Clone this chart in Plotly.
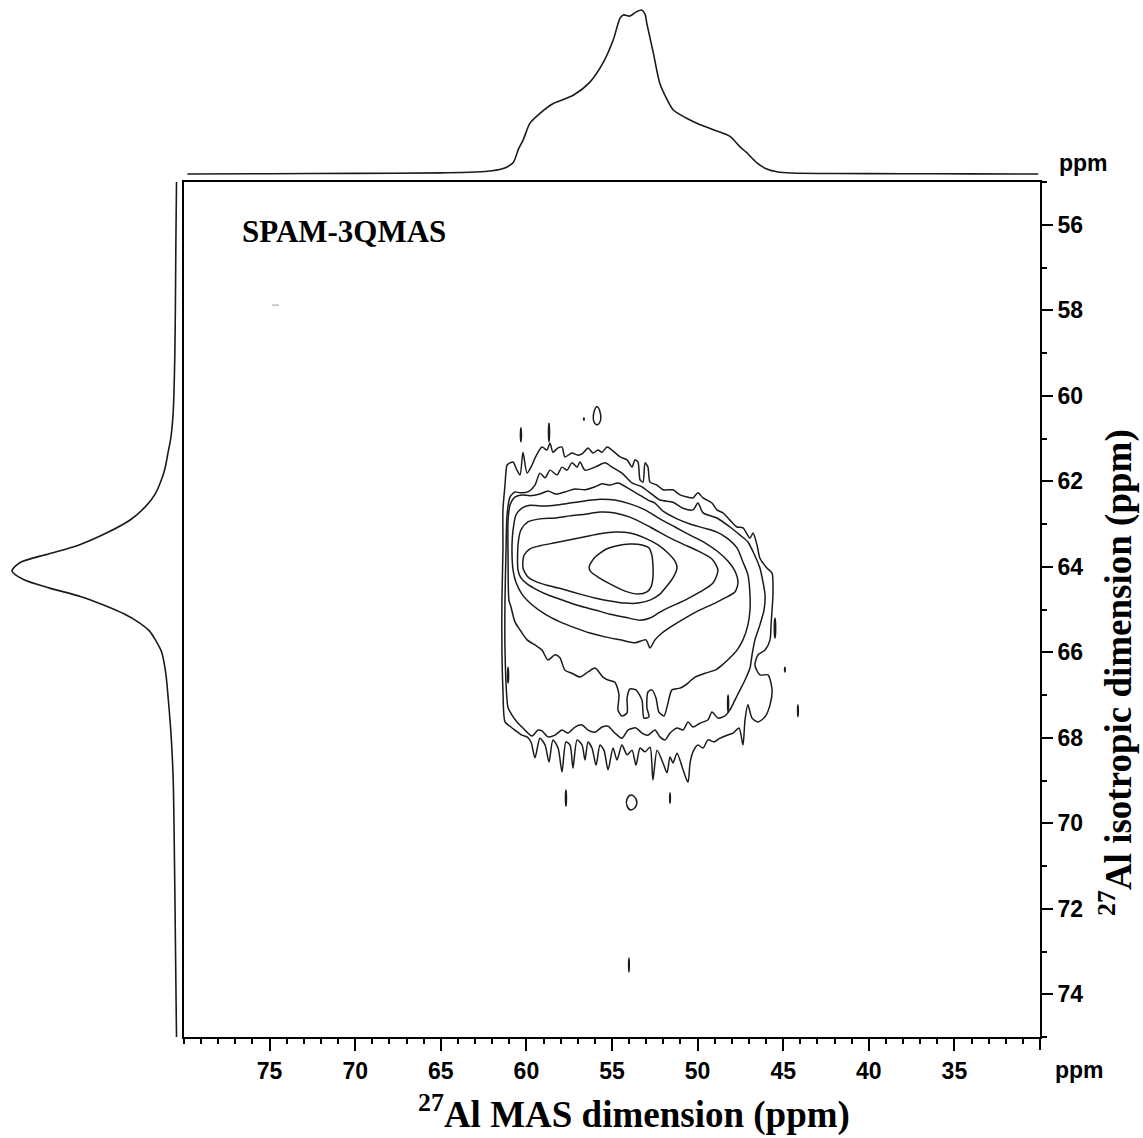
import plotly.graph_objects as go

W, H = 1143, 1138

# ---------------- data ----------------
mas_tick_vals = [35, 40, 45, 50, 55, 60, 65, 70, 75]
mas_end_tick = [30]
iso_tick_vals = [56, 58, 60, 62, 64, 66, 68, 70, 72, 74]
mas_range = [80, 30]
iso_range = [75, 55]

# F2 (MAS) projection, normalised intensity
top_proj_ppm = [79.8, 75, 70, 65, 63, 62, 61.3, 60.77, 60.47, 60.18, 59.79, 59.21, 58.43, 57.26,
                56.29, 55.51, 54.92, 54.53, 54.34, 53.95, 53.56, 53.27, 53.07, 52.97, 52.59, 52.20,
                51.81, 51.42, 50.64, 50.05, 49.08, 48.11, 47.52, 47.13, 46.55, 45.96, 45.3, 44.5,
                42, 38, 34, 30.1]
top_proj_int = [0.0, 0.002, 0.004, 0.007, 0.012, 0.02, 0.035, 0.07, 0.15, 0.21, 0.31, 0.37, 0.43,
                0.48, 0.56, 0.68, 0.82, 0.95, 0.97, 0.963, 0.99, 1.0, 0.975, 0.92, 0.74, 0.55, 0.46,
                0.39, 0.34, 0.31, 0.27, 0.23, 0.165, 0.13, 0.07, 0.03, 0.012, 0.006, 0.003, 0.002,
                0.001, 0.0]

# F1 (isotropic) projection, normalised intensity
left_proj_ppm = [55.0, 56.5, 58.0, 59.0, 60.0, 60.5, 61.0, 61.3, 61.7, 62.0, 62.3, 62.6, 62.9, 63.2,
                 63.5, 63.7, 63.9, 64.1, 64.3, 64.5, 64.7, 64.9, 65.1, 65.3, 65.5, 65.7, 66.0, 66.5,
                 67.1, 68.0, 69.0, 71.0, 73.0, 75.0]
left_proj_int = [0.0, 0.004, 0.007, 0.010, 0.016, 0.022, 0.035, 0.05, 0.07, 0.095, 0.13, 0.19, 0.28,
                 0.42, 0.60, 0.78, 0.95, 1.0, 0.93, 0.77, 0.58, 0.44, 0.32, 0.23, 0.165, 0.13, 0.09,
                 0.065, 0.05, 0.032, 0.02, 0.012, 0.006, 0.0]

# contour levels (outermost L1 ... innermost L7), (MAS ppm, iso ppm)
L1_x = [61.25, 61.37, 61.43, 61.43, 61.37, 61.37, 61.25, 61.13, 60.96, 60.78, 60.55, 60.37, 60.20,
        59.96, 59.67, 59.50, 59.09, 58.80, 58.62, 58.45, 58.15, 57.92, 57.75, 57.34, 56.99, 56.69,
        56.40, 56.11, 55.82, 55.58, 55.29, 55.00, 54.53, 54.12, 53.83, 53.66, 53.48, 53.36, 53.19,
        53.07, 52.90, 52.78, 52.37, 52.02, 51.44, 51.03, 50.62, 50.27, 49.98, 49.68, 49.16, 48.87,
        48.52, 48.11, 47.70, 47.35, 46.94, 46.76, 46.53, 46.36, 45.95, 45.65, 45.60, 45.65, 45.71,
        45.77, 46.06, 46.47, 46.65, 46.36, 45.89, 45.65, 45.77, 46.06, 46.47, 46.82, 47.06, 47.23,
        47.35, 47.58, 47.93, 48.28, 48.69, 49.04, 49.39, 49.68, 49.98, 50.27, 50.44, 50.56, 50.85,
        51.20, 51.44, 51.61, 51.79, 52.02, 52.37, 52.61, 52.78, 53.07, 53.36, 53.60, 53.83, 54.12,
        54.42, 54.71, 54.94, 55.23, 55.47, 55.70, 55.93, 56.17, 56.40, 56.58, 56.75, 57.04, 57.28,
        57.45, 57.69, 57.92, 58.15, 58.45, 58.68, 58.91, 59.21, 59.50, 59.73, 59.96, 60.26, 60.67,
        60.96, 61.25]
L1_y = [67.63, 66.88, 65.95, 64.78, 63.61, 62.67, 62.09, 61.62, 61.57, 61.55, 61.74, 61.85, 61.32,
        61.81, 61.62, 61.46, 61.20, 61.27, 61.11, 61.32, 61.22, 61.20, 61.43, 61.34, 61.39, 61.34,
        61.22, 61.34, 61.27, 61.32, 61.20, 61.27, 61.43, 61.50, 61.67, 61.50, 61.55, 61.97, 62.02,
        61.57, 61.67, 62.02, 62.09, 62.20, 62.20, 62.32, 62.37, 62.39, 62.27, 62.39, 62.51, 62.67,
        62.74, 62.91, 63.07, 63.09, 63.33, 63.21, 63.49, 63.80, 64.03, 64.15, 64.66, 65.01, 65.36,
        65.71, 65.95, 66.06, 66.30, 66.53, 66.53, 66.88, 67.23, 67.51, 67.63, 67.54, 67.23, 67.58,
        68.17, 67.77, 67.89, 67.94, 68.01, 68.10, 68.05, 68.24, 68.17, 68.33, 68.59, 69.04, 68.75,
        68.36, 68.59, 68.45, 68.82, 68.59, 68.29, 68.99, 68.22, 68.33, 68.24, 68.64, 68.29, 68.40,
        68.17, 68.52, 68.24, 68.75, 68.29, 68.17, 68.64, 68.24, 68.10, 68.52, 68.17, 68.05, 68.71,
        68.17, 68.10, 68.80, 68.24, 68.05, 68.57, 68.17, 68.01, 68.47, 68.10, 67.98, 67.94, 67.82,
        67.73, 67.63]

L2_x = [61.07, 61.13, 61.25, 61.25, 61.19, 61.13, 60.96, 60.67, 60.37, 59.91, 59.50, 59.21, 58.91,
        58.62, 58.21, 57.92, 57.63, 57.34, 57.04, 56.87, 56.58, 55.99, 55.41, 55.00, 54.42, 53.83,
        53.25, 52.78, 52.20, 51.44, 50.85, 50.27, 49.98, 49.68, 48.87, 48.11, 47.52, 47.06, 46.76,
        46.36, 46.18, 46.06, 46.12, 46.36, 46.65, 46.82, 46.94, 47.23, 47.52, 47.82, 48.11, 48.40,
        48.81, 49.16, 49.39, 49.86, 50.27, 50.56, 50.85, 51.20, 51.61, 51.90, 52.20, 52.49, 52.90,
        53.25, 53.60, 54.07, 54.42, 54.83, 55.23, 55.58, 55.99, 56.40, 56.75, 57.16, 57.57, 57.92,
        58.33, 58.74, 59.09, 59.32, 59.67, 59.91, 60.26, 60.55, 60.84, 61.07]
L2_y = [67.30, 67.12, 65.95, 64.78, 63.61, 62.79, 62.37, 62.25, 62.27, 62.25, 62.09, 61.81, 61.92,
        61.74, 61.85, 61.67, 61.74, 61.57, 61.67, 61.55, 61.74, 61.67, 61.57, 61.67, 61.81, 62.04,
        62.13, 62.27, 62.44, 62.49, 62.63, 62.67, 62.51, 62.74, 62.86, 63.07, 63.26, 63.42, 63.65,
        64.03, 64.36, 64.66, 65.01, 65.36, 65.71, 66.06, 66.37, 66.65, 66.88, 67.12, 67.35, 67.49,
        67.54, 67.40, 67.58, 67.66, 67.75, 67.63, 67.82, 67.77, 67.89, 68.05, 67.98, 67.82, 67.94,
        67.89, 67.77, 67.82, 68.01, 67.89, 67.73, 67.75, 67.87, 67.82, 67.70, 67.75, 67.89, 67.82,
        67.94, 67.98, 67.84, 67.82, 67.96, 67.89, 67.75, 67.63, 67.47, 67.30]

L3_x = [61.02, 61.07, 61.07, 60.96, 60.67, 60.26, 59.79, 59.21, 58.74, 58.27, 57.75, 57.16, 56.58,
        55.99, 55.58, 55.12, 54.65, 54.07, 53.48, 52.90, 52.49, 52.02, 51.20, 50.44, 49.68, 48.87,
        48.28, 47.70, 47.35, 47.06, 46.94, 46.94, 47.06, 47.35, 47.70, 48.11, 48.57, 48.98, 49.57,
        50.15, 50.56, 51.03, 51.50, 51.73, 51.96, 52.26, 52.43, 52.67, 52.90, 52.96, 52.84, 53.13,
        53.25, 53.60, 53.95, 54.12, 54.12, 54.42, 54.65, 54.59, 54.83, 55.23, 55.53, 55.99, 56.40,
        56.87, 57.34, 57.75, 58.04, 58.33, 58.74, 59.09, 59.50, 59.96, 60.37, 60.67, 60.90, 61.02]
L3_y = [64.78, 63.84, 62.91, 62.56, 62.37, 62.32, 62.34, 62.30, 62.23, 62.30, 62.25, 62.18, 62.20,
        62.13, 62.06, 62.09, 62.04, 62.16, 62.30, 62.44, 62.51, 62.70, 62.88, 63.00, 63.09, 63.19,
        63.33, 63.56, 63.89, 64.19, 64.66, 65.01, 65.36, 65.71, 65.95, 66.13, 66.30, 66.42, 66.49,
        66.58, 66.72, 66.84, 66.88, 67.19, 67.49, 67.40, 67.07, 66.88, 66.93, 67.30, 67.51, 67.54,
        67.12, 66.88, 66.86, 67.07, 67.42, 67.49, 67.35, 67.00, 66.70, 66.65, 66.58, 66.37, 66.46,
        66.58, 66.49, 66.42, 66.13, 66.06, 66.18, 65.95, 65.83, 65.71, 65.48, 65.29, 64.94, 64.78]

L4_x = [60.78, 60.84, 60.78, 60.61, 60.26, 59.79, 59.21, 58.33, 57.45, 56.58, 55.70, 54.83, 53.95,
        53.07, 52.20, 51.32, 50.44, 49.57, 48.81, 48.22, 47.82, 47.64, 47.82, 48.40, 48.98, 49.86,
        50.73, 51.50, 52.08, 52.49, 52.78, 53.02, 53.66, 54.53, 55.41, 56.29, 57.16, 58.04, 58.91,
        59.67, 60.26, 60.61, 60.78]
L4_y = [64.08, 63.49, 63.14, 62.79, 62.63, 62.56, 62.58, 62.56, 62.51, 62.46, 62.42, 62.44, 62.53,
        62.67, 62.88, 63.07, 63.26, 63.44, 63.65, 63.87, 64.10, 64.38, 64.59, 64.73, 64.85, 65.01,
        65.20, 65.39, 65.55, 65.71, 65.90, 65.71, 65.78, 65.71, 65.64, 65.55, 65.43, 65.29, 65.11,
        64.89, 64.64, 64.36, 64.08]

L5_x = [60.49, 60.49, 60.32, 59.91, 59.21, 58.33, 57.45, 56.58, 55.70, 54.83, 53.95, 52.78, 51.73,
        50.85, 49.98, 49.16, 48.81, 49.10, 49.86, 50.73, 51.61, 52.20, 52.78, 53.36, 54.24, 55.12,
        55.99, 56.87, 57.75, 58.62, 59.38, 59.96, 60.32, 60.49]
L5_y = [64.08, 63.49, 63.14, 62.95, 62.88, 62.86, 62.81, 62.77, 62.72, 62.74, 62.84, 63.07, 63.30,
        63.47, 63.63, 63.82, 64.08, 64.38, 64.59, 64.78, 64.94, 65.06, 65.20, 65.25, 65.18, 65.11,
        65.01, 64.92, 64.80, 64.68, 64.54, 64.40, 64.26, 64.08]

L6_x = [60.20, 60.14, 59.79, 59.21, 58.33, 57.45, 56.58, 55.70, 54.83, 53.95, 53.07, 52.31, 51.73,
        51.32, 51.20, 51.44, 51.79, 52.20, 52.78, 53.48, 54.24, 55.12, 55.99, 56.87, 57.75, 58.62,
        59.38, 59.91, 60.20]
L6_y = [64.03, 63.73, 63.58, 63.51, 63.44, 63.37, 63.30, 63.23, 63.19, 63.21, 63.33, 63.49, 63.68,
        63.87, 64.03, 64.26, 64.45, 64.64, 64.78, 64.85, 64.85, 64.80, 64.73, 64.64, 64.54, 64.45,
        64.36, 64.24, 64.03]

L7_x = [56.34, 56.05, 55.70, 55.29, 54.71, 53.95, 53.25, 52.84, 52.67, 52.61, 52.61, 52.72, 52.96,
        53.48, 54.24, 55.12, 55.82, 56.23, 56.34]
L7_y = [64.01, 63.80, 63.68, 63.58, 63.51, 63.47, 63.49, 63.56, 63.73, 63.96, 64.26, 64.47, 64.59,
        64.64, 64.57, 64.40, 64.24, 64.12, 64.01]

# small isolated contour islands (noise)
islands = [
    ([55.88, 55.70, 55.70, 55.88, 56.05, 56.05, 55.88], [60.26, 60.38, 60.61, 60.68, 60.61, 60.38, 60.26]),
    ([56.64, 56.62, 56.64, 56.66, 56.64], [60.52, 60.55, 60.57, 60.55, 60.52]),
    ([60.32, 60.29, 60.32, 60.35, 60.32], [60.75, 60.92, 61.08, 60.92, 60.75]),
    ([58.68, 58.65, 58.68, 58.71, 58.68], [60.64, 60.86, 61.08, 60.86, 60.64]),
    ([61.07, 61.04, 61.07, 61.10, 61.07], [66.35, 66.55, 66.72, 66.55, 66.35]),
    ([45.48, 45.44, 45.48, 45.52, 45.48], [65.20, 65.43, 65.67, 65.43, 65.20]),
    ([44.90, 44.88, 44.90, 44.92, 44.90], [66.35, 66.40, 66.46, 66.40, 66.35]),
    ([44.14, 44.12, 44.14, 44.16, 44.14], [67.23, 67.37, 67.51, 67.37, 67.23]),
    ([48.22, 48.19, 48.22, 48.25, 48.22], [67.00, 67.20, 67.40, 67.20, 67.00]),
    ([51.61, 51.59, 51.61, 51.63, 51.61], [69.29, 69.41, 69.53, 69.41, 69.29]),
    ([54.01, 53.99, 54.01, 54.03, 54.01], [73.15, 73.31, 73.48, 73.31, 73.15]),
    ([53.89, 53.60, 53.60, 53.89, 54.12, 54.12, 53.89], [69.34, 69.43, 69.60, 69.69, 69.60, 69.43, 69.34]),
    ([57.69, 57.66, 57.69, 57.72, 57.69], [69.22, 69.41, 69.60, 69.41, 69.22]),
]
speck_x = [74.86, 74.45]
speck_y = [57.88, 57.88]

# ---------------- figure ----------------
LINE = '#1a1a1a'
fig = go.Figure()

levels = [(L1_x, L1_y), (L2_x, L2_y), (L3_x, L3_y), (L4_x, L4_y),
          (L5_x, L5_y), (L6_x, L6_y), (L7_x, L7_y)]
for lx, ly in levels:
    fig.add_trace(go.Scatter(x=lx, y=ly, mode='lines', xaxis='x', yaxis='y',
                             line=dict(color=LINE, width=1.5, shape='spline', smoothing=0.7),
                             hoverinfo='skip', showlegend=False))
for ix, iy in islands:
    fig.add_trace(go.Scatter(x=ix, y=iy, mode='lines', xaxis='x', yaxis='y',
                             line=dict(color=LINE, width=1.5, shape='spline', smoothing=1.0),
                             hoverinfo='skip', showlegend=False))
fig.add_trace(go.Scatter(x=speck_x, y=speck_y, mode='lines', xaxis='x', yaxis='y',
                         line=dict(color='#b0b0b0', width=1.2), hoverinfo='skip', showlegend=False))

# projections
fig.add_trace(go.Scatter(x=top_proj_ppm, y=top_proj_int, mode='lines', xaxis='x', yaxis='y2',
                         line=dict(color=LINE, width=1.6, shape='spline', smoothing=0.8),
                         hoverinfo='skip', showlegend=False))
fig.add_trace(go.Scatter(x=left_proj_int, y=left_proj_ppm, mode='lines', xaxis='x3', yaxis='y',
                         line=dict(color=LINE, width=1.6, shape='spline', smoothing=0.8),
                         hoverinfo='skip', showlegend=False))
# carrier trace for the end-tick axis
fig.add_trace(go.Scatter(x=[], y=[], xaxis='x4', yaxis='y', mode='lines',
                         hoverinfo='skip', showlegend=False))


def px_x(X):
    return X / W


def px_y(Y):
    return 1 - Y / H


tickfont = dict(family='Liberation Sans, Arial, sans-serif', size=23, color='black', weight='bold')
x_domain = [px_x(184), px_x(1040)]

fig.update_layout(
    width=W, height=H,
    margin=dict(l=0, r=0, t=0, b=0),
    paper_bgcolor='white', plot_bgcolor='rgba(0,0,0,0)',
    showlegend=False,
    xaxis=dict(domain=x_domain, range=mas_range, anchor='y',
               showline=True, linecolor='black', linewidth=1.8, mirror=True,
               ticks='outside', ticklen=12, tickwidth=1.8, tickcolor='black',
               tickmode='array', tickvals=mas_tick_vals,
               minor=dict(dtick=1, tick0=0, ticklen=5, tickwidth=1.5, ticks='outside',
                          tickcolor='black', showgrid=False),
               tickfont=tickfont, showgrid=False, zeroline=False, fixedrange=True),
    xaxis4=dict(domain=x_domain, range=mas_range, anchor='y', overlaying='x',
                showline=False, ticks='outside', ticklen=12, tickwidth=1.8, tickcolor='black',
                tickmode='array', tickvals=mas_end_tick, showticklabels=False,
                showgrid=False, zeroline=False, fixedrange=True),
    yaxis=dict(domain=[px_y(1037), px_y(182)], range=iso_range, anchor='x', side='right',
               showline=True, linecolor='black', linewidth=1.8, mirror=True,
               ticks='outside', ticklen=11, tickwidth=1.8, tickcolor='black',
               tickmode='array', tickvals=iso_tick_vals,
               minor=dict(dtick=1, tick0=0, ticklen=5, tickwidth=1.5, ticks='outside',
                          tickcolor='black', showgrid=False),
               tickfont=tickfont, showgrid=False, zeroline=False, fixedrange=True),
    yaxis2=dict(domain=[px_y(177.3), px_y(6.7)], range=[-0.02, 1.02], anchor='x',
                visible=False, fixedrange=True),
    xaxis3=dict(domain=[px_x(8.7), px_x(179.8)], range=[1.02, -0.02], anchor='y',
                visible=False, fixedrange=True),
)

sans_bold = dict(family='Liberation Sans, Arial, sans-serif', size=23, color='black', weight='bold')
serif = 'Liberation Serif, Times New Roman, serif'
fig.add_annotation(x=px_x(1079), y=px_y(1070), xref='paper', yref='paper', text='ppm',
                   showarrow=False, font=sans_bold, xanchor='center', yanchor='middle')
fig.add_annotation(x=px_x(1083), y=px_y(163), xref='paper', yref='paper', text='ppm',
                   showarrow=False, font=sans_bold, xanchor='center', yanchor='middle')
fig.add_annotation(x=px_x(240), y=px_y(232), xref='paper', yref='paper', text='SPAM-3QMAS',
                   showarrow=False, font=dict(family=serif, size=31, color='black', weight='bold'),
                   xanchor='left', yanchor='middle')
fig.add_annotation(x=px_x(634), y=px_y(1112), xref='paper', yref='paper',
                   text='<sup>27</sup>Al MAS dimension (ppm)',
                   showarrow=False, font=dict(family=serif, size=37, color='black', weight='bold'),
                   xanchor='center', yanchor='middle')
fig.add_annotation(x=px_x(1116), y=px_y(673), xref='paper', yref='paper',
                   text='<sup>27</sup>Al isotropic dimension (ppm)', textangle=-90,
                   showarrow=False, font=dict(family=serif, size=37, color='black', weight='bold'),
                   xanchor='center', yanchor='middle')

fig.write_html('out.html')
